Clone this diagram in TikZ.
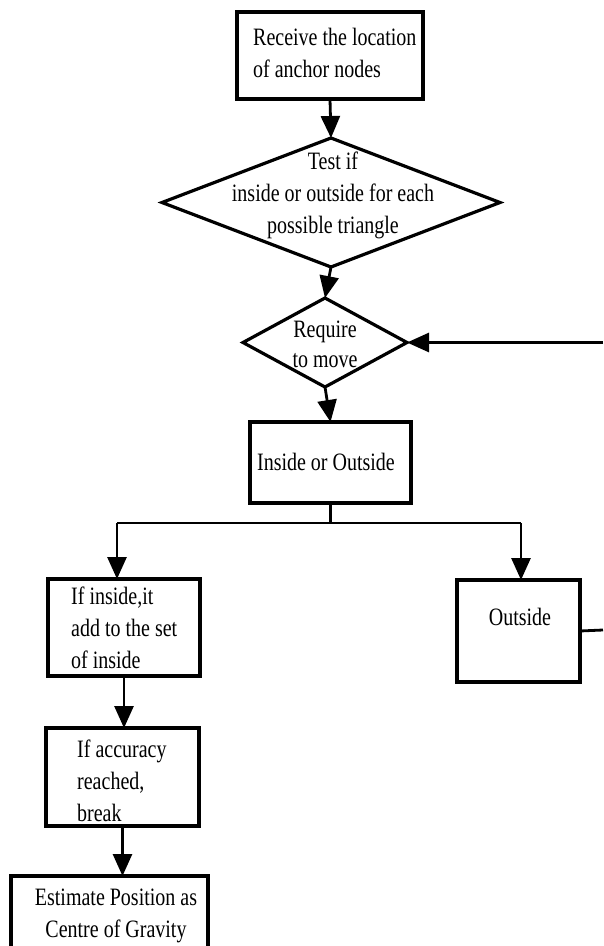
\documentclass[tikz,border=0pt]{standalone}
\usepackage{fontspec}
\newfontfamily\fc[FakeStretch=0.8]{Liberation Serif}
\usetikzlibrary{shapes.geometric,arrows.meta}
\begin{document}
\begin{tikzpicture}[x=1pt,y=-1pt,
  box/.style={draw,line width=3.2pt,rectangle,inner sep=0pt,outer sep=0pt},
  dia/.style={draw,line width=3.2pt,diamond,inner sep=0pt,outer sep=0pt},
  txt/.style={font=\fc\fontsize{25}{32}\selectfont,inner sep=0pt},
  conn/.style={line width=2.8pt},
  arr/.style={conn,-{Triangle[width=19pt,length=22pt]}}]
\clip (0,0) rectangle (603,946);
\fill[white] (0,0) rectangle (603,946);
% shapes
\node[box,minimum width=186pt,minimum height=87pt] (b1) at (330,55.5) {};
\node[dia,minimum width=338pt,minimum height=129pt] (d1) at (331,202.5) {};
\node[dia,minimum width=164pt,minimum height=89pt] (d2) at (325,342.5) {};
\node[box,minimum width=161pt,minimum height=81pt] (b2) at (330.5,462.5) {};
\node[box,minimum width=152pt,minimum height=97pt] (b3) at (124,627.5) {};
\node[box,minimum width=123pt,minimum height=102pt] (b4) at (518.5,631) {};
\node[box,minimum width=153pt,minimum height=98pt] (b5) at (122.5,777) {};
\node[box,minimum width=197pt,minimum height=110pt] (b6) at (109.5,931) {};
% texts
\node[txt,align=left,anchor=west] (t1) at (253,52.5) {Receive the location\\of anchor nodes};
\node[txt,align=center] (t2) at (333,195) {Test if\\inside or outside for each\\possible triangle};
\node[txt,align=center,font=\fc\fontsize{25}{30}\selectfont] (t3) at (325,344) {Require\\to move};
\node[txt] (t4) at (326,462) {Inside or Outside};
\node[txt,align=left,anchor=west] (t5) at (71,628) {If inside,it\\add to the set\\of inside};
\node[txt] (t6) at (520,617) {Outside};
\node[txt,align=left,anchor=west] (t7) at (77,781) {If accuracy\\reached,\\break};
\node[txt,align=center] (t8) at (116,916) {Estimate Position as\\Centre of Gravity};
% connectors
\coordinate (j) at (330.5,523);
\coordinate (jl) at (117,523);
\coordinate (jr) at (521,523);
\coordinate (e1) at (603,630);
\coordinate (e2) at (603,342.5);
\draw[arr] (b1.south) -- (d1.north);
\draw[arr] (d1.south) -- (d2.north);
\draw[arr] (d2.south) -- (b2.north);
\draw[conn] (b2.south) -- (j);
\draw[conn] (jl) -- (jr);
\draw[arr] (jl) -- (jl |- b3.north);
\draw[arr] (jr) -- (jr |- b4.north);
\draw[conn] (b4.east) -- (e1);
\draw[arr] (e2) -- (d2.east);
\draw[arr] (b3.south) -- (b3.south |- b5.north);
\draw[arr] (b5.south) -- (b5.south |- b6.north);
\end{tikzpicture}
\end{document}
